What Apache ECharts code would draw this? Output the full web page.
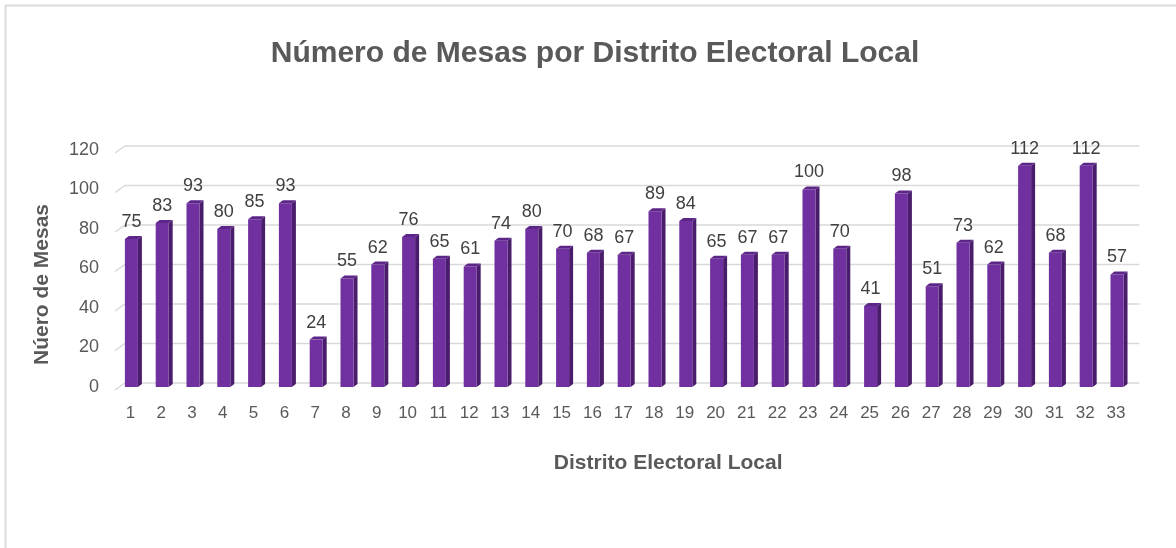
<!DOCTYPE html>
<html>
<head>
<meta charset="utf-8">
<script src="https://cdn.jsdelivr.net/npm/echarts@6/dist/echarts.min.js"></script>
<style>
  html, body { margin: 0; padding: 0; background: #fff; }
  #chart { width: 1176px; height: 548px; }
</style>
</head>
<body>
<div id="chart"></div>
<script>
// datos del grafico
const distritos = ['1','2','3','4','5','6','7','8','9','10','11','12','13','14','15','16','17',
  '18','19','20','21','22','23','24','25','26','27','28','29','30','31','32','33'];
const mesas = [75, 83, 93, 80, 85, 93, 24, 55, 62, 76, 65, 61, 74, 80, 70, 68, 67,
  89, 84, 65, 67, 67, 100, 70, 41, 98, 51, 73, 62, 112, 68, 112, 57];
const yTicks = [0, 20, 40, 60, 80, 100, 120];

const FONT = '"Liberation Sans", Arial, sans-serif';
const TXT = '#595959';

let myChart = echarts.init(document.getElementById('chart'));

// barras con efecto 3d (cara frontal, lateral y superior)
function renderBar(params, api) {
  let top = api.coord([api.value(0), api.value(1)]);
  let base = api.coord([api.value(0), 0]);
  let w = 13, d = 4, dy = 3;
  let x0 = top[0] - w / 2 + 1;
  return {
    type: 'group',
    children: [
      {
        type: 'polygon',
        shape: { points: [[x0 + w, top[1]], [x0 + w + d, top[1] - dy], [x0 + w + d, base[1] - dy], [x0 + w, base[1]]] },
        style: { fill: '#4a1d6c' }
      },
      {
        type: 'rect',
        shape: { x: x0, y: top[1], width: w, height: base[1] - top[1] },
        style: { fill: '#7030a0' }
      },
      {
        type: 'polygon',
        shape: { points: [[x0, top[1]], [x0 + d, top[1] - dy], [x0 + w + d, top[1] - dy], [x0 + w, top[1]]] },
        style: { fill: '#5c2688' }
      },
      {
        type: 'text',
        style: {
          text: String(api.value(1)),
          x: top[0] + 1, y: top[1] - dy - 5,
          align: 'center', verticalAlign: 'bottom',
          fontSize: 18, fontFamily: FONT, fill: '#404040'
        }
      }
    ]
  };
}

// lineas de la pared del fondo
function renderGridLine(params, api) {
  let cs = params.coordSys;
  let y = api.coord([0, api.value(1)])[1];
  return {
    type: 'polyline',
    shape: { points: [[cs.x, y + 3], [cs.x + 10, y - 4], [cs.x + cs.width + 8, y - 4]] },
    style: { stroke: '#d9d9d9', lineWidth: 1.5, fill: null }
  };
}

let option = {
  animation: false,
  graphic: [{
    type: 'rect',
    shape: { x: 5.5, y: 5.5, width: 1200, height: 600 },
    style: { fill: null, stroke: '#dcdcdc', lineWidth: 2 },
    z: -10
  }],
  title: {
    text: 'Número de Mesas por Distrito Electoral Local',
    left: 590, top: 34,
    textAlign: 'center',
    textStyle: { fontFamily: FONT, fontSize: 30, fontWeight: 'bold', color: TXT }
  },
  grid: { left: 115, right: 44.6, top: 150, bottom: 161 },
  xAxis: {
    type: 'category',
    data: distritos,
    axisLine: { show: false },
    axisTick: { show: false },
    axisLabel: { fontFamily: FONT, fontSize: 17, color: TXT, margin: 18, interval: 0 },
    name: 'Distrito Electoral Local',
    nameLocation: 'middle',
    nameGap: 66,
    nameTextStyle: { fontFamily: FONT, fontSize: 21, fontWeight: 'bold', color: TXT, padding: [0, 0, 0, 90] }
  },
  yAxis: {
    type: 'value',
    min: 0, max: 120, interval: 20,
    axisLine: { show: false },
    axisTick: { show: false },
    splitLine: { show: false },
    axisLabel: { fontFamily: FONT, fontSize: 18, color: TXT, margin: 16 },
    name: 'Núero de Mesas',
    nameLocation: 'middle',
    nameGap: 62,
    nameTextStyle: { fontFamily: FONT, fontSize: 21, fontWeight: 'bold', color: TXT, padding: [0, 32, 0, 0] }
  },
  series: [
    {
      type: 'custom',
      name: 'grid',
      renderItem: renderGridLine,
      data: yTicks.map(t => [0, t]),
      z: 1,
      silent: true
    },
    {
      type: 'custom',
      name: 'Número de Mesas',
      renderItem: renderBar,
      data: mesas.map((v, i) => [i, v]),
      z: 2
    }
  ]
};

myChart.setOption(option);
</script>
</body>
</html>
